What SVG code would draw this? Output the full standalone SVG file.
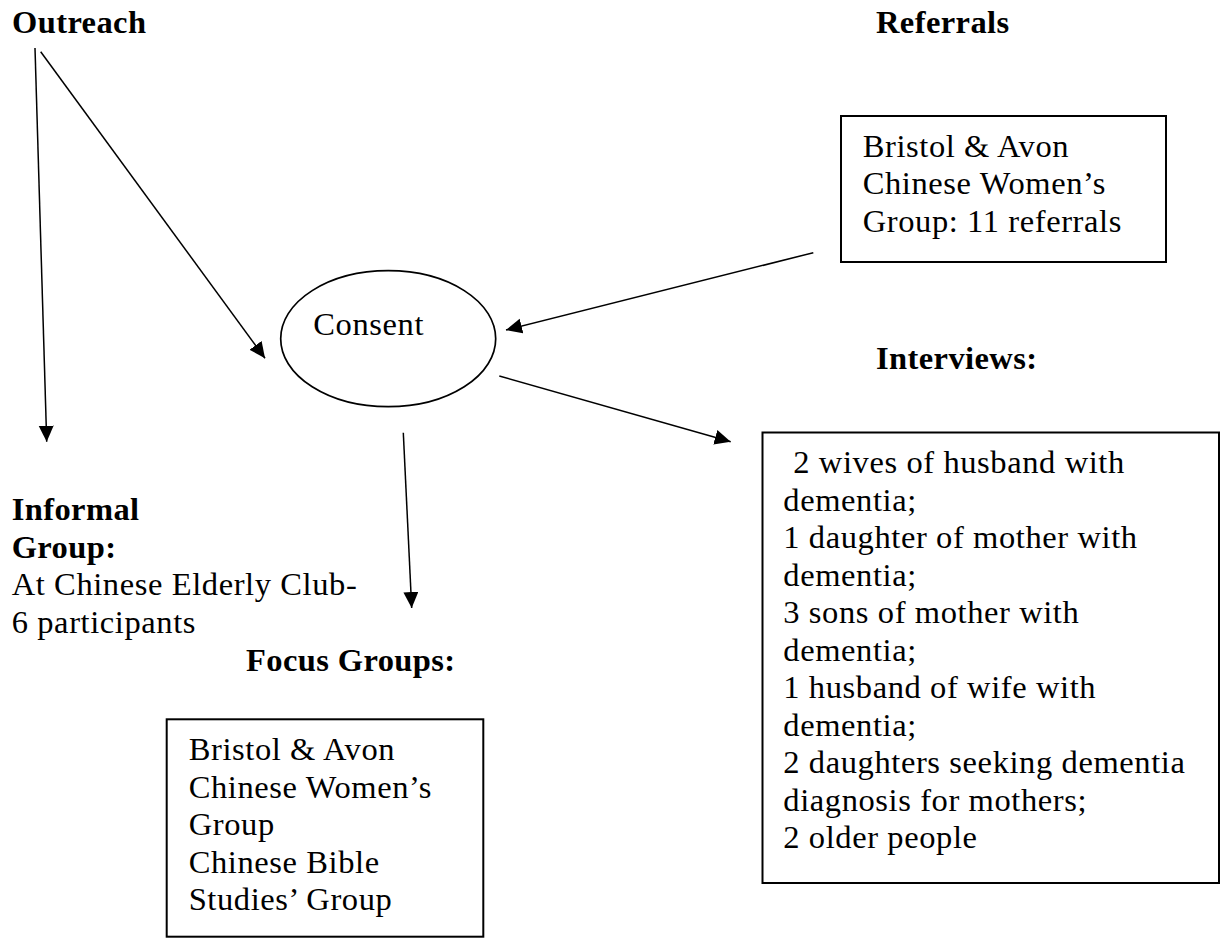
<svg xmlns="http://www.w3.org/2000/svg" width="1223" height="945" viewBox="0 0 1223 945">
<style>
text{font-family:"Liberation Serif","Times New Roman",serif;font-size:32.5px;fill:#000;letter-spacing:0.6px}
.b{font-weight:bold;letter-spacing:0.4px}
.box{fill:#fff;stroke:#000;stroke-width:2}
.ell{fill:#fff;stroke:#000;stroke-width:1.7}
.conn line{stroke:#000;stroke-width:1.5;marker-end:url(#ah)}
</style>
<defs>
<marker id="ah" markerUnits="userSpaceOnUse" markerWidth="17" markerHeight="16" refX="16" refY="7.5" orient="auto">
<path d="M0,0 L16,7.5 L0,15 Z" fill="#000"/>
</marker>
</defs>
<rect width="1223" height="945" fill="#fff"/>
<g id="outreach"><text class="b" x="12" y="33">Outreach</text></g>
<g id="referrals-label"><text class="b" x="876" y="32.5">Referrals</text></g>
<g id="referrals-box">
<rect class="box" x="841" y="116" width="325" height="146"/>
<text x="862.7" y="156.5">Bristol &amp; Avon</text>
<text x="862.7" y="194">Chinese Women’s</text>
<text x="862.7" y="231.5">Group: 11 referrals</text>
</g>
<g id="consent">
<ellipse class="ell" cx="388.2" cy="338.7" rx="107.5" ry="68"/>
<text x="313.3" y="335">Consent</text>
</g>
<g id="interviews-label"><text class="b" x="876" y="369.3">Interviews:</text></g>
<g id="interviews-box">
<rect class="box" x="762.5" y="432.5" width="456.5" height="450.5"/>
<text x="793.3" y="473.3">2 wives of husband with</text>
<text x="783.3" y="510.8">dementia;</text>
<text x="783.3" y="548.3">1 daughter of mother with</text>
<text x="783.3" y="585.8">dementia;</text>
<text x="783.3" y="623.3">3 sons of mother with</text>
<text x="783.3" y="660.8">dementia;</text>
<text x="783.3" y="698.3">1 husband of wife with</text>
<text x="783.3" y="735.8">dementia;</text>
<text x="783.3" y="773.3">2 daughters seeking dementia</text>
<text x="783.3" y="810.8">diagnosis for mothers;</text>
<text x="783.3" y="848.3">2 older people</text>
</g>
<g id="informal-group">
<text class="b" x="11.7" y="520">Informal</text>
<text class="b" x="11.7" y="557.5">Group:</text>
<text x="11.7" y="595">At Chinese Elderly Club-</text>
<text x="11.7" y="632.5">6 participants</text>
</g>
<g id="focus-label"><text class="b" x="246" y="671">Focus Groups:</text></g>
<g id="focus-box">
<rect class="box" x="166.7" y="719.3" width="316.6" height="217.4"/>
<text x="188.7" y="760">Bristol &amp; Avon</text>
<text x="188.7" y="797.5">Chinese Women’s</text>
<text x="188.7" y="835">Group</text>
<text x="188.7" y="872.5">Chinese Bible</text>
<text x="188.7" y="910">Studies’ Group</text>
</g>
<g id="connectors" class="conn">
<line x1="35" y1="48" x2="46.7" y2="441.7"/>
<line x1="40.7" y1="51.7" x2="265" y2="358.3"/>
<line x1="813.3" y1="252.7" x2="506" y2="330"/>
<line x1="499.3" y1="376" x2="730.7" y2="441.7"/>
<line x1="403.3" y1="432.7" x2="411.7" y2="608"/>
</g>
</svg>
